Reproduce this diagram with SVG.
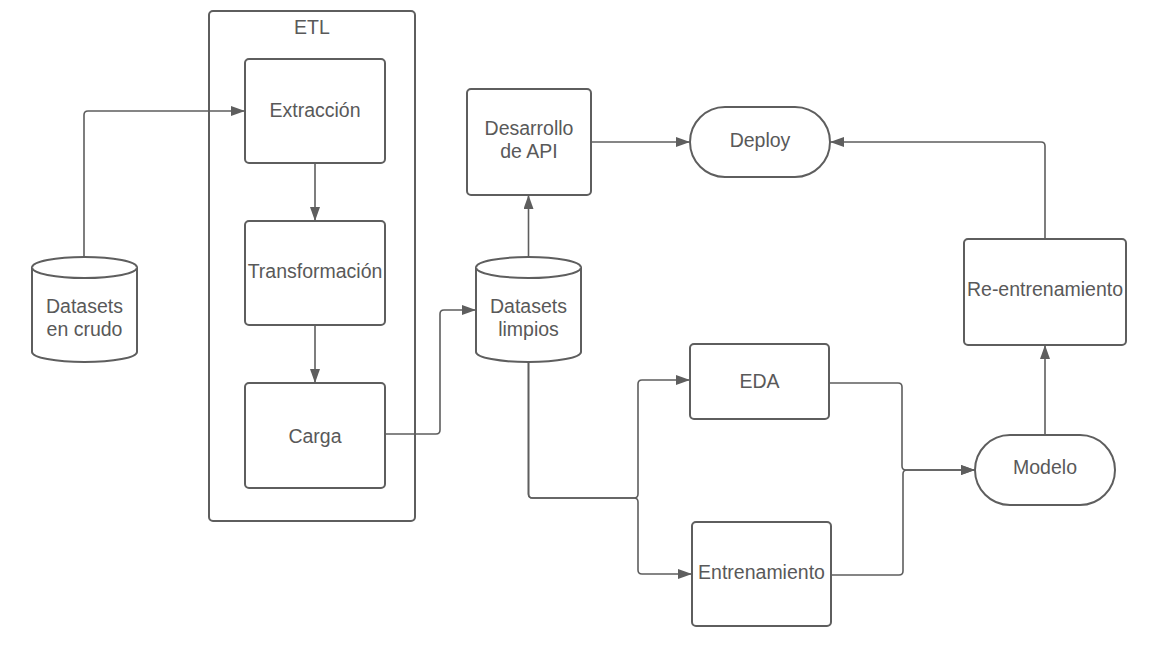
<svg xmlns="http://www.w3.org/2000/svg" width="1164" height="654" viewBox="0 0 1164 654">
<style>
.s{fill:#ffffff;stroke:#5e5e5e;stroke-width:2}
.c{fill:none;stroke:#5e5e5e;stroke-width:1.6}
.t{font-family:"Liberation Sans",Arial,sans-serif;font-size:19.5px;fill:#595959;text-anchor:middle}
</style>
<defs>
<marker id="a" markerUnits="userSpaceOnUse" markerWidth="14" markerHeight="10" refX="14" refY="5" orient="auto">
<path d="M0,0 L14,5 L0,10 Z" fill="#5e5e5e"/>
</marker>
</defs>
<rect width="1164" height="654" fill="#ffffff"/>
<g id="etl">
<rect class="s" x="209" y="11" width="206" height="510" rx="4"/>
<text class="t" x="312" y="34">ETL</text>
</g>
<g id="extraccion">
<rect class="s" x="245" y="59" width="140" height="104" rx="4"/>
<text class="t" x="315" y="117">Extracción</text>
</g>
<g id="transformacion">
<rect class="s" x="245" y="221" width="140" height="104" rx="4"/>
<text class="t" x="315" y="278">Transformación</text>
</g>
<g id="carga">
<rect class="s" x="245" y="383" width="140" height="105" rx="4"/>
<text class="t" x="315" y="443">Carga</text>
</g>
<g id="crudo">
<path class="s" d="M32,267.5 A52.5,10.5 0 0 1 137,267.5 V352 A52.5,10 0 0 1 32,352 Z"/>
<path class="s" d="M32,267.5 A52.5,10.5 0 0 0 137,267.5" fill="none"/>
<text class="t" x="84.5" y="313">Datasets</text>
<text class="t" x="84.5" y="336">en crudo</text>
</g>
<g id="limpios">
<path class="s" d="M476,267.5 A52.5,10.5 0 0 1 581,267.5 V352 A52.5,10 0 0 1 476,352 Z"/>
<path class="s" d="M476,267.5 A52.5,10.5 0 0 0 581,267.5" fill="none"/>
<text class="t" x="528.5" y="313">Datasets</text>
<text class="t" x="528.5" y="336">limpios</text>
</g>
<g id="api">
<rect class="s" x="467" y="89" width="124" height="106" rx="4"/>
<text class="t" x="529" y="135">Desarrollo</text>
<text class="t" x="529" y="158">de API</text>
</g>
<g id="deploy">
<rect class="s" x="690" y="107" width="140" height="70" rx="35"/>
<text class="t" x="760" y="147">Deploy</text>
</g>
<g id="reentrenamiento">
<rect class="s" x="964" y="239" width="162" height="106" rx="4"/>
<text class="t" x="1045" y="296">Re-entrenamiento</text>
</g>
<g id="eda">
<rect class="s" x="690" y="344" width="139" height="75" rx="4"/>
<text class="t" x="759.5" y="388">EDA</text>
</g>
<g id="entrenamiento">
<rect class="s" x="692" y="522" width="139" height="104" rx="4"/>
<text class="t" x="761.5" y="579">Entrenamiento</text>
</g>
<g id="modelo">
<rect class="s" x="975" y="435" width="140" height="70" rx="35"/>
<text class="t" x="1045" y="474">Modelo</text>
</g>
<g id="connectors">
<path class="c" marker-end="url(#a)" d="M84,257 V115 Q84,111 88,111 H245"/>
<path class="c" marker-end="url(#a)" d="M315,163 V221"/>
<path class="c" marker-end="url(#a)" d="M315,325 V383"/>
<path class="c" marker-end="url(#a)" d="M385,434 H436 Q440,434 440,430 V314 Q440,310 444,310 H476"/>
<path class="c" marker-end="url(#a)" d="M528.5,257 V195"/>
<path class="c" marker-end="url(#a)" d="M591,142 H690"/>
<path class="c" marker-end="url(#a)" d="M1045,239 V146 Q1045,142 1041,142 H830"/>
<path class="c" marker-end="url(#a)" d="M528.5,362 V494 Q528.5,498 532.5,498 H634 Q638,498 638,494 V384 Q638,380 642,380 H690"/>
<path class="c" marker-end="url(#a)" d="M528.5,362 V494 Q528.5,498 532.5,498 H634 Q638,498 638,502 V570 Q638,574 642,574 H692"/>
<path class="c" marker-end="url(#a)" d="M829,383 H898 Q902,383 902,387 V466 Q902,470 906,470 H975"/>
<path class="c" marker-end="url(#a)" d="M831,575 H899 Q903,575 903,571 V474 Q903,470 907,470 H975"/>
<path class="c" marker-end="url(#a)" d="M1045,435 V345"/>
</g>
</svg>
